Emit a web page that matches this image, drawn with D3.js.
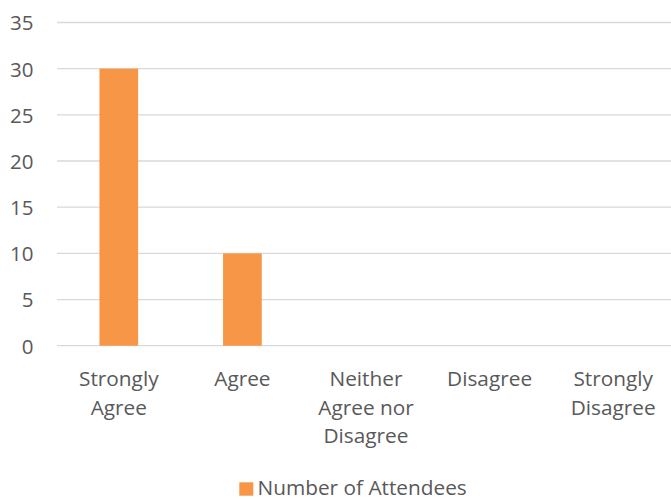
<!DOCTYPE html>
<html><head><meta charset="utf-8">
<script src="https://cdn.jsdelivr.net/npm/d3@7"></script>
<style>body{margin:0;background:#fff}svg{display:block}</style>
</head><body>
<svg id="c" width="671" height="499"></svg>
<script>
const categories = [["Strongly","Agree"],["Agree"],["Neither","Agree nor","Disagree"],["Disagree"],["Strongly","Disagree"]];
const values = [30, 10, 0, 0, 0];
const yTicks = [0,5,10,15,20,25,30,35];
const seriesName = "Number of Attendees";

(function(){
const font = "'Open Sans', sans-serif";
const fs = 20.8;
const txt = "#595959";
const svg = d3.select("#c");
const mLeft = 57, mRight = 675, mTop = 22.5, mBottom = 345.7;
const x = d3.scaleBand().domain(d3.range(categories.length)).range([mLeft, mRight]).paddingInner(0.687).paddingOuter(0.3435);
const y = d3.scaleLinear().domain([0,35]).range([mBottom, mTop]);

const grid = svg.append("g");
grid.selectAll("line").data(yTicks).join("line")
  .attr("x1", mLeft).attr("x2", 671)
  .attr("y1", d=>y(d)).attr("y2", d=>y(d))
  .attr("stroke", "#d9d9d9").attr("stroke-width", 1.3);

const yAxis = d3.axisLeft(y).tickValues(yTicks).tickSize(0).tickPadding(0);
const ga = svg.append("g").attr("transform", "translate(33.5,0)").call(yAxis);
ga.select(".domain").remove();
ga.selectAll("text").attr("font-family", font).attr("font-size", 20.5).attr("fill", txt).attr("dy","0.36em");

svg.append("g").selectAll("rect").data(values).join("rect")
  .attr("x", (d,i)=>x(i)).attr("width", x.bandwidth())
  .attr("y", d=>y(d)).attr("height", d=>y(0)-y(d))
  .attr("fill", "#F79646");

const cl = svg.append("g");
categories.forEach((lines,i)=>{
  const cx = x(i) + x.bandwidth()/2;
  const t = cl.append("text").attr("text-anchor","middle").attr("font-family",font).attr("font-size",fs).attr("fill",txt);
  lines.forEach((l,j)=>t.append("tspan").attr("x",cx).attr("y",385.7 + j*28.8).text(l));
});

const lg = svg.append("g");
lg.append("rect").attr("x",239.3).attr("y",482.3).attr("width",14).attr("height",13.4).attr("fill","#F79646");
lg.append("text").attr("x",257.5).attr("y",494.5).attr("font-family",font).attr("font-size",fs).attr("fill",txt).text(seriesName);
})();
</script>
</body></html>
